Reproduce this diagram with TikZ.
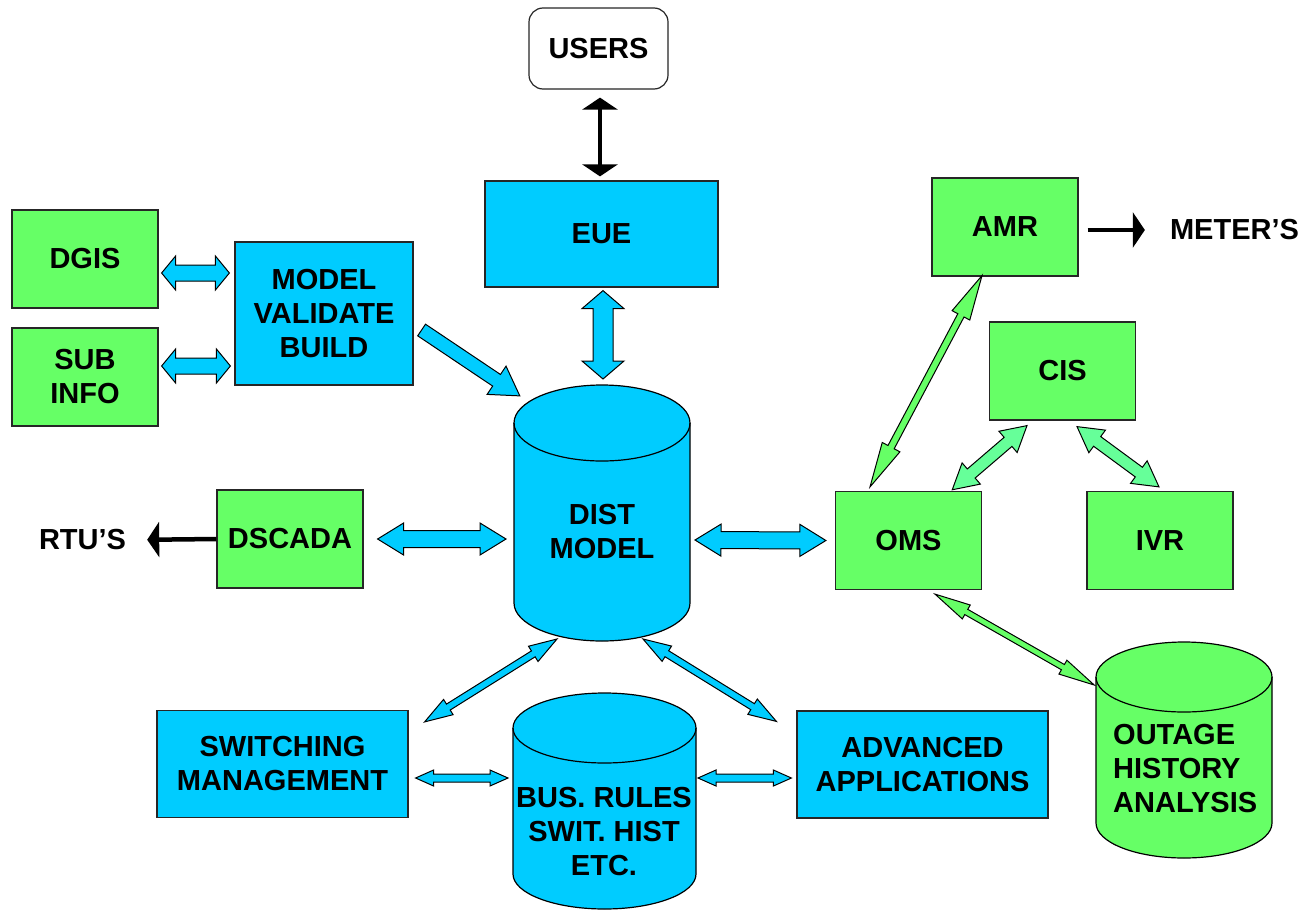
\documentclass[tikz,border=0pt]{standalone}
\usepackage{fontspec}
\setmainfont{Liberation Sans}
\usepackage{xcolor}
\definecolor{scblue}{RGB}{0,204,255}
\definecolor{scgreen}{RGB}{102,255,102}
\definecolor{scmint}{RGB}{102,255,153}
\usetikzlibrary{arrows.meta, calc}

\tikzset{
  box/.style={draw=black!85, line width=1.2pt, align=center, inner sep=0pt},
  bluebox/.style={box, fill=scblue},
  greenbox/.style={box, fill=scgreen},
  smallbox/.style={minimum width=146, minimum height=98},
  widebox/.style={minimum width=251, minimum height=107},
  lbl/.style={inner sep=0pt},
  wire/.style={line width=4.5pt},
  bighead/.tip={Triangle[length=12pt, width=35pt]},
}

% block arrows: [fill]{from}{to}{half shaft}{half head}{head length}
\newcommand{\dblarrow}[6][scblue]{%
  \path[draw=black, line width=1pt, fill=#1, line join=miter]
    let \p1=(#2), \p2=(#3), \n1={atan2(\y2-\y1,\x2-\x1)},
        \n2={veclen(\x2-\x1,\y2-\y1)} in
    [shift={(\p1)}, rotate=\n1]
    (0,0) -- (#6,#5) -- (#6,#4) -- (\n2-#6,#4) -- (\n2-#6,#5) -- (\n2,0)
    -- (\n2-#6,-#5) -- (\n2-#6,-#4) -- (#6,-#4) -- (#6,-#5) -- cycle;
}
\newcommand{\sglarrow}[6][scblue]{%
  \path[draw=black, line width=1pt, fill=#1, line join=miter]
    let \p1=(#2), \p2=(#3), \n1={atan2(\y2-\y1,\x2-\x1)},
        \n2={veclen(\x2-\x1,\y2-\y1)} in
    [shift={(\p1)}, rotate=\n1]
    (0,-#4) -- (0,#4) -- (\n2-#6,#4) -- (\n2-#6,#5) -- (\n2,0)
    -- (\n2-#6,-#5) -- (\n2-#6,-#4) -- cycle;
}
% database drum: {fill}{centre x}{top y}{bottom y}{half width}{cap radius}
\newcommand{\drum}[6]{%
  \filldraw[fill=#1, draw=black, line width=1.2pt]
    (#2-#5,#3+#6) -- (#2-#5,#4-#6)
    arc[start angle=180, end angle=360, x radius=#5pt, y radius=#6pt]
    -- (#2+#5,#3+#6)
    arc[start angle=0, end angle=180, x radius=#5pt, y radius=#6pt] -- cycle;
  \draw[line width=1.2pt] (#2-#5,#3+#6)
    arc[start angle=180, end angle=360, x radius=#5pt, y radius=#6pt];
}

\begin{document}
\begin{tikzpicture}[x=1pt, y=-1pt, font=\fontsize{29}{34}\selectfont\bfseries]
  \useasboundingbox (0,0) rectangle (1304,913);

  % Top: users and EUE
  \node[box, fill=white, rounded corners=14pt, minimum width=139, minimum height=81]
    (users) at (598.5,48.5) {USERS};
  \node[bluebox, minimum width=233, minimum height=106] (eue) at (601.5,234) {EUE};

  % Left column
  \node[greenbox, smallbox] (dgis) at (85,259) {DGIS};
  \node[greenbox, smallbox] (subinfo) at (85,377) {SUB\\INFO};
  \node[bluebox, minimum width=178, minimum height=143] (model) at (324,313.5)
    {MODEL\\VALIDATE\\BUILD};
  \node[greenbox, smallbox] (dscada) at (290,539) {DSCADA};
  \node[lbl] (rtu) at (82.5,540) {RTU’S};

  % Central databases
  \drum{scblue}{602}{385}{641}{88}{38}
  \node[lbl, align=center] (dist) at (602,532) {DIST\\MODEL};
  \drum{scblue}{604.5}{693}{909}{91.5}{35}
  \node[lbl, align=center] (bus) at (604,832) {BUS. RULES\\SWIT. HIST\\ETC.};

  % Bottom row
  \node[bluebox, widebox] (switching) at (282.5,764) {SWITCHING\\MANAGEMENT};
  \node[bluebox, widebox] (advanced) at (922.5,764.5) {ADVANCED\\APPLICATIONS};

  % Right side: outage management
  \node[greenbox, smallbox] (amr) at (1005,227) {AMR};
  \node[lbl] (meters) at (1234.5,230) {METER’S};
  \node[greenbox, smallbox] (cis) at (1062.5,371) {CIS};
  \node[greenbox, smallbox] (oms) at (908.5,540.5) {OMS};
  \node[greenbox, smallbox] (ivr) at (1160,540.5) {IVR};
  \drum{scgreen}{1184}{642}{858}{88}{35}
  \node[lbl, align=left, anchor=west] (outage) at (1113,769) {OUTAGE\\HISTORY\\ANALYSIS};

  % Plain black arrows
  \draw[wire, bighead-bighead] ($(users.south)+(1.5,8)$) -- ($(eue.north)+(-1.5,-4)$);
  \draw[wire, -bighead, shorten >=21pt] (dscada.west) -- (rtu.east);
  \draw[wire, -bighead, shorten >=25pt] ($(amr.east)+(9,3)$) -- (meters.west);

  % Blue block arrows
  \dblarrow{$(dgis.east)+(3,14)$}{$(model.west |- dgis.east)+(-5,14)$}{8}{17}{14}
  \dblarrow{$(subinfo.east)+(3,-11)$}{$(model.west |- subinfo.east)+(-4,-11)$}{8}{17}{14}
  \sglarrow{$(model.east)+(8,16.5)$}{$(dist.center)+(-82,-136)$}{7}{17}{28}
  \dblarrow{$(eue.south)+(1.5,3)$}{$(dist.center)+(1,-153)$}{10}{21}{18}
  \dblarrow{$(dscada.east)+(14,0)$}{$(dist.center)+(-96,7)$}{8.5}{16}{26}
  \dblarrow{$(dist.center)+(93,8)$}{$(oms.west)+(-9,0)$}{8.5}{16}{26}
  \dblarrow{$(dist.center)+(-45,107)$}{$(switching.north east)+(16,12)$}{3.5}{9}{28}
  \dblarrow{$(dist.center)+(41,107)$}{$(advanced.north west)+(-20,11)$}{3.5}{9}{28}
  \dblarrow{$(switching.east)+(7,14)$}{$(bus.center)+(-96,-54)$}{4}{8}{18}
  \dblarrow{$(bus.center)+(94,-54)$}{$(advanced.west)+(-5,13.5)$}{4}{8}{18}

  % Green block arrows
  \dblarrow[scgreen]{$(amr.south)+(-23,-1)$}{$(oms.north)+(-38.5,-4)$}{3.5}{10}{45}
  \dblarrow[scmint]{$(cis.south)+(-35.5,5)$}{$(oms.north east)+(-30,-1)$}{6}{14}{25}
  \dblarrow[scmint]{$(cis.south)+(14.5,6)$}{$(ivr.north)+(-1,-4)$}{6}{14}{25}
  \dblarrow[scgreen]{$(oms.south)+(26.5,4)$}{$(outage.center)+(-91,-84)$}{3}{8}{36}
\end{tikzpicture}
\end{document}
